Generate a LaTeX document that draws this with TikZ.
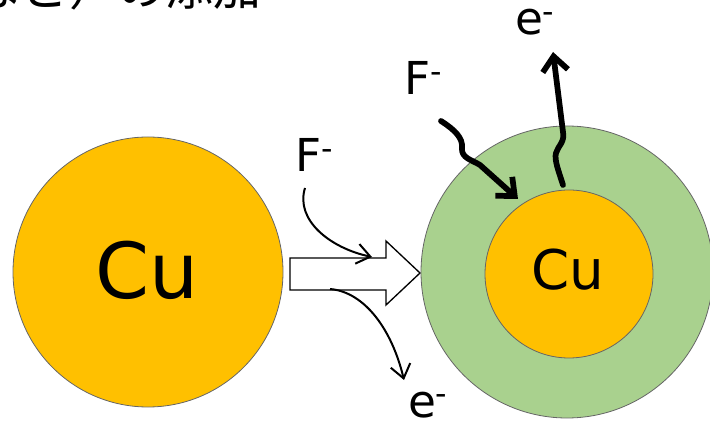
\documentclass[tikz,border=0pt]{standalone}
\usepackage{fontspec}
\setmainfont{DejaVu Sans}
\newfontfamily\jpfont{Noto Sans CJK JP}
\usetikzlibrary{arrows.meta}
\definecolor{cuorange}{HTML}{FFC000}
\definecolor{filmgreen}{HTML}{A9D18E}
\tikzset{
  ball/.style={circle, draw=black!60, line width=0.6pt, inner sep=0pt},
  lbl/.style={inner sep=0pt, font=\fontsize{34}{36}\selectfont},
  thinarr/.style={line width=1.5pt, -{Straight Barb[length=10pt,width=15pt,line width=1.5pt]}},
  thickarr/.style={line width=4.3pt, line cap=round, line join=round, -{Straight Barb[length=11pt,width=19pt,line width=4.3pt]}}
}
\begin{document}
\begin{tikzpicture}[x=0.75pt,y=-0.75pt]
\useasboundingbox (0,0) rectangle (710,427);
\clip (0,0) rectangle (710,427);
% header text (cut off)
\node[anchor=base west, inner sep=0pt, font=\jpfont\fontsize{36}{38}\selectfont] (hdr) at (-27,6) {など）の添加};
% left copper
\node[ball, fill=cuorange, minimum size=270*0.75pt] (cuL) at (148,272) {};
\node[font=\fontsize{58}{62}\selectfont, inner sep=0pt] (cuLt) at (147,270) {Cu};
% right film and copper
\node[ball, fill=filmgreen, minimum size=292*0.75pt] (film) at (567,272) {};
\node[ball, fill=cuorange, minimum size=168*0.75pt] (cuR) at (569,274) {};
\node[font=\fontsize{41}{44}\selectfont, inner sep=0pt] (cuRt) at (568,270) {Cu};
% block arrow
\draw[line width=1pt, fill=white, line join=miter] (290,258) -- (386,258) -- (386,241) -- (420,273) -- (386,305) -- (386,290) -- (290,290) -- cycle;
\coordinate (arrIn) at (372,257);
\coordinate (arrOut) at (330,289);
% labels
\node[lbl, anchor=base] (F1) at (315,172) {F\textsuperscript{-}};
\node[lbl, anchor=base] (e1) at (428,417) {e\textsuperscript{-}};
\node[lbl, anchor=base] (F2) at (424,95) {F\textsuperscript{-}};
\node[lbl, anchor=base] (e2) at (535,35) {e\textsuperscript{-}};
% thin curved arrows
\coordinate (f1s) at (305,188);
\coordinate (e1e) at (404,380);
\draw[thinarr] (f1s) .. controls (295,220) and (330,248) .. (arrIn);
\draw[thinarr] (arrOut) .. controls (365,292) and (392,330) .. (e1e);
% thick wavy arrows
\coordinate (f2s) at (441,121);
\coordinate (f2e) at (518,199);
\draw[thickarr] (f2s) .. controls (455,130) and (463,138) .. (462,148)
  .. controls (461,158) and (472,160) .. (480,165) -- (f2e);
\coordinate (e2s) at (563,185);
\coordinate (e2e) at (553,52);
\draw[thickarr] (e2s) .. controls (559,172) and (554,160) .. (556,153)
  .. controls (558,146) and (565,142) .. (563,132) -- (e2e);
\end{tikzpicture}
\end{document}
